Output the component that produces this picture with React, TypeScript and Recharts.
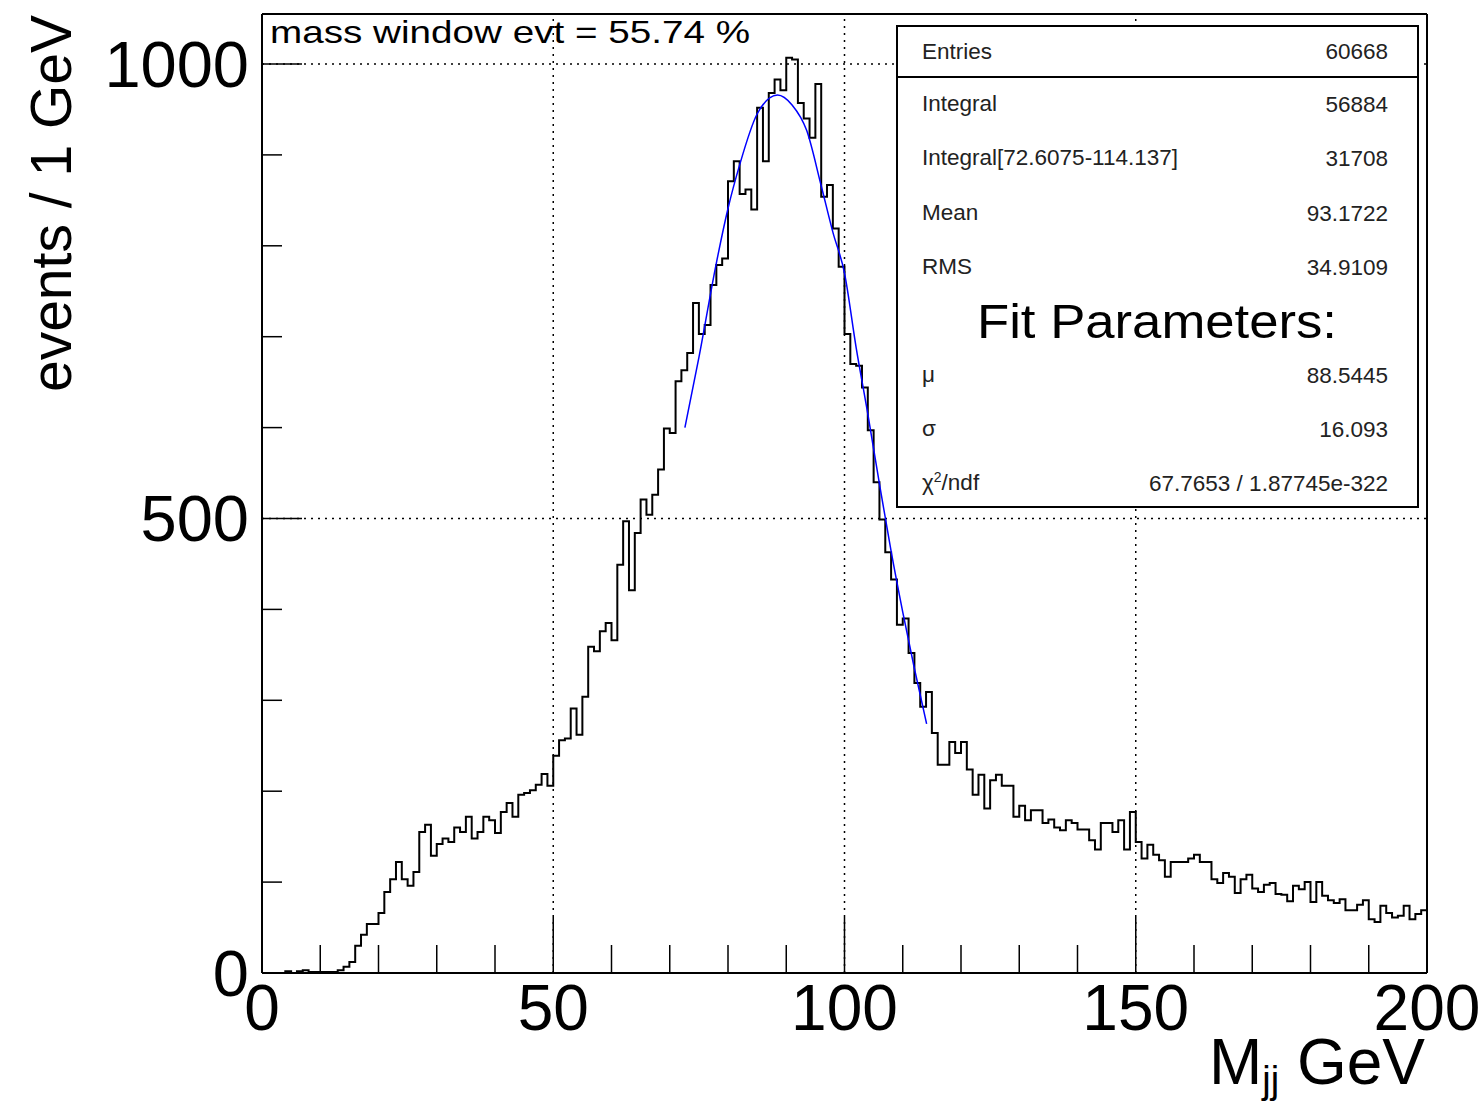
import { ComposedChart, Line, XAxis, YAxis, ReferenceLine } from "recharts";

// events per 1 GeV bin, bins 0..199
const binCounts = [
  0, 0, 0, 0, 2, 0, 2, 3, 1, 1, 1, 1, 1, 3, 7, 12, 30, 42, 54, 54,
  66, 89, 103, 122, 103, 96, 111, 155, 163, 129, 142, 148, 144, 160, 155, 172, 148, 155, 172, 168,
  154, 177, 187, 172, 196, 198, 201, 207, 219, 206, 239, 256, 258, 291, 262, 304, 359, 354, 376, 385,
  366, 449, 497, 421, 484, 521, 504, 526, 554, 599, 594, 651, 663, 682, 737, 703, 713, 757, 779, 786,
  871, 893, 857, 862, 840, 952, 893, 968, 983, 971, 1007, 1005, 957, 940, 919, 978, 854, 867, 819, 777,
  703, 670, 668, 644, 597, 540, 499, 463, 433, 383, 390, 352, 319, 293, 309, 264, 229, 229, 254, 242,
  254, 224, 196, 218, 181, 212, 218, 206, 206, 172, 184, 168, 179, 179, 165, 169, 160, 157, 168, 165,
  158, 158, 146, 136, 165, 165, 155, 168, 136, 177, 144, 126, 141, 130, 124, 106, 122, 122, 122, 126,
  130, 122, 122, 103, 99, 110, 106, 88, 103, 108, 93, 89, 97, 99, 87, 86, 79, 96, 92, 100,
  78, 100, 85, 80, 77, 81, 69, 69, 75, 80, 59, 56, 74, 66, 61, 63, 74, 59, 65, 69,
];

// gaussian fit curve
const fitMass = [72.6, 75, 78, 80, 82, 85, 88.5, 91, 93.5, 96, 98, 100, 102, 104, 106, 108, 110, 112, 114.1];
const fitCounts = [600, 677, 781, 841, 889, 945, 966, 955, 927, 866, 815, 770, 688, 615, 538, 464, 397, 335, 274];

const xTicks = [0, 10, 20, 30, 40, 50, 60, 70, 80, 90, 100, 110, 120, 130, 140, 150, 160, 170, 180, 190, 200];
const yTicks = [0, 100, 200, 300, 400, 500, 600, 700, 800, 900, 1000];
const xGrid = [50, 100, 150];
const yGrid = [500, 1000];

const statLabels = ["Integral", "Integral[72.6075-114.137]", "Mean", "RMS"];
const statValues = ["56884", "31708", "93.1722", "34.9109"];
const fitValues = ["88.5445", "16.093", "67.7653 / 1.87745e-322"];

const FONT = "'Liberation Sans', Arial, Helvetica, sans-serif";
const STAT_FS = 22.5;

const histData = binCounts
  .map((n, i) => ({ m: i, n }))
  .concat([{ m: 200, n: binCounts[binCounts.length - 1] }]);
const fitData = fitMass.map((m, i) => ({ m, f: fitCounts[i] }));

function XTick({ x, y, payload }: any) {
  const v = payload.value;
  const major = v % 50 === 0;
  return (
    <g>
      <line x1={x} x2={x} y1={y} y2={y - (major ? 56 : 28)} stroke="#000" strokeWidth={1.5} />
      {major && (
        <text x={x} y={y + 57} textAnchor="middle" fontSize={64} fontFamily={FONT} fill="#000">
          {v}
        </text>
      )}
    </g>
  );
}

function YTick({ x, y, payload }: any) {
  const v = payload.value;
  const major = v % 500 === 0;
  return (
    <g>
      <line x1={x} x2={x + (major ? 40 : 20)} y1={y} y2={y} stroke="#000" strokeWidth={1.5} />
      {major && (
        <text x={x - 13} y={y + 23} textAnchor="end" fontSize={65} fontFamily={FONT} fill="#000">
          {v}
        </text>
      )}
    </g>
  );
}

export default function App() {
  const rowY = [104, 158, 213, 267];
  const fitRowY = [375, 429, 483];
  return (
    <div style={{ position: "absolute", left: 0, top: 0, width: 1484, height: 1105, background: "#fff" }}>
      <ComposedChart
        width={1484}
        height={1105}
        data={histData}
        margin={{ top: 14, right: 57, bottom: 0, left: 0 }}
      >
        <XAxis
          dataKey="m"
          type="number"
          domain={[0, 200]}
          ticks={xTicks}
          interval={0}
          height={132}
          tickSize={0}
          tickMargin={0}
          tickLine={false}
          axisLine={{ stroke: "#000", strokeWidth: 2 }}
          tick={<XTick />}
        />
        <YAxis
          type="number"
          domain={[0, 1055]}
          ticks={yTicks}
          interval={0}
          width={262}
          tickSize={0}
          tickMargin={0}
          tickLine={false}
          allowDataOverflow
          axisLine={{ stroke: "#000", strokeWidth: 2 }}
          tick={<YTick />}
        />
        {xGrid.map((g) => (
          <ReferenceLine key={"x" + g} x={g} stroke="#000" strokeWidth={1.5} strokeDasharray="2 5" />
        ))}
        {yGrid.map((g) => (
          <ReferenceLine key={"y" + g} y={g} stroke="#000" strokeWidth={1.5} strokeDasharray="2 5" />
        ))}
        <ReferenceLine y={1055} stroke="#000" strokeWidth={2} />
        <ReferenceLine x={200} stroke="#000" strokeWidth={2} />
        <Line
          dataKey="n"
          type="stepAfter"
          stroke="#000"
          strokeWidth={2}
          dot={false}
          activeDot={false}
          isAnimationActive={false}
        />
        <Line
          data={fitData}
          dataKey="f"
          type="monotone"
          stroke="#0000ff"
          strokeWidth={1.5}
          dot={false}
          activeDot={false}
          isAnimationActive={false}
        />
      </ComposedChart>
      <svg
        width={1484}
        height={1105}
        style={{ position: "absolute", left: 0, top: 0, pointerEvents: "none" }}
        fontFamily={FONT}
      >
        <text transform="translate(71,15) rotate(-90)" textAnchor="end" fontSize={57} fill="#000">
          events / 1 GeV
        </text>
        <text x={1425} y={1084} textAnchor="end" fontSize={64} fill="#000">
          M
          <tspan fontSize={38} dy={9}>jj</tspan>
          <tspan dy={-9}> GeV</tspan>
        </text>
        <text x={270} y={43} fontSize={32} fill="#000" textLength={480} lengthAdjust="spacingAndGlyphs">
          mass window evt = 55.74 %
        </text>
        <rect x={897} y={26} width={521} height={481} fill="#fff" stroke="#000" strokeWidth={2} />
        <line x1={897} x2={1418} y1={77} y2={77} stroke="#000" strokeWidth={2} />
        <text x={922} y={59} fontSize={STAT_FS} fill="#222">Entries</text>
        <text x={1388} y={59} fontSize={STAT_FS} fill="#222" textAnchor="end">60668</text>
        {statLabels.map((l, i) => (
          <g key={l}>
            <text x={922} y={rowY[i] + 7} fontSize={STAT_FS} fill="#222">{l}</text>
            <text x={1388} y={rowY[i] + 8} fontSize={STAT_FS} fill="#222" textAnchor="end">{statValues[i]}</text>
          </g>
        ))}
        <text x={1157} y={338} fontSize={48} fill="#000" textAnchor="middle" textLength={360} lengthAdjust="spacingAndGlyphs">
          Fit Parameters:
        </text>
        <text x={922} y={fitRowY[0] + 7} fontSize={STAT_FS} fill="#222">μ</text>
        <text x={922} y={fitRowY[1] + 7} fontSize={STAT_FS} fill="#222">σ</text>
        <text x={922} y={fitRowY[2] + 7} fontSize={STAT_FS} fill="#222">
          χ<tspan fontSize={14} dy={-8}>2</tspan>
          <tspan dy={8}>/ndf</tspan>
        </text>
        {fitValues.map((v, i) => (
          <text key={v} x={1388} y={fitRowY[i] + 8} fontSize={STAT_FS} fill="#222" textAnchor="end">{v}</text>
        ))}
      </svg>
    </div>
  );
}
